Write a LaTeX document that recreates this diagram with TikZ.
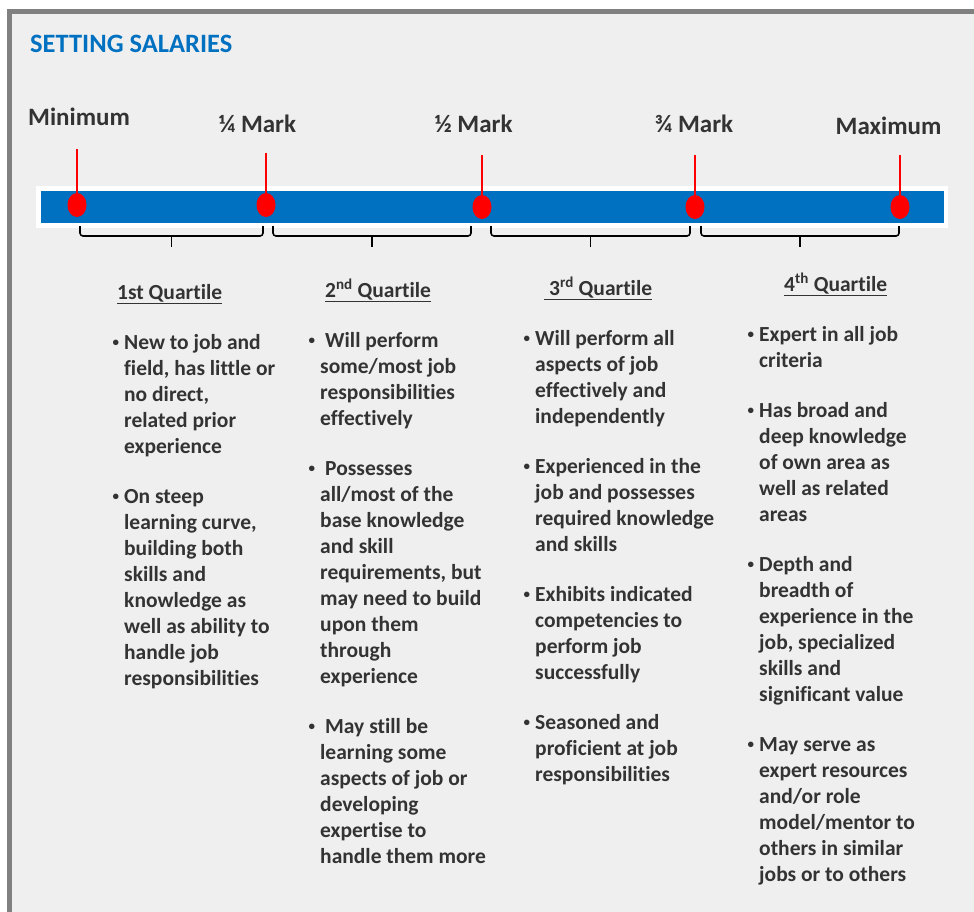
\documentclass[tikz,border=0pt]{standalone}
\usepackage{fontspec}
\setmainfont{Carlito}[Ligatures=NoCommon]
\usetikzlibrary{shapes.geometric}
\definecolor{barblue}{HTML}{0070C0}
\definecolor{panelgray}{HTML}{EFEFEF}
\definecolor{framegray}{HTML}{808080}
\definecolor{inkgray}{HTML}{333333}
% small bullet hanging left of the line, strut fixes the line top
\newcommand{\bul}{\rule{0pt}{18pt}\llap{\raisebox{3pt}{\fontsize{13}{13}\selectfont\textbullet}\hspace{5pt}}}
\begin{document}
\begin{tikzpicture}[x=1pt, y=-1pt,
  marklabel/.style={font=\fontsize{25}{30}\selectfont\bfseries, text=inkgray, inner sep=0pt, anchor=base},
  reddot/.style={ellipse, fill=red, minimum width=19pt, minimum height=24pt, inner sep=0pt},
  redline/.style={red, line width=1.8pt},
  qbrace/.style={black, line width=1.6pt, rounded corners=3pt},
  qhead/.style={font=\fontsize{21.5}{26}\selectfont\bfseries, text=inkgray, inner sep=0pt, anchor=base west},
  qtext/.style={font=\fontsize{21.5}{26}\selectfont\bfseries, text=inkgray, inner sep=0pt, align=left, anchor=north west},
]
\useasboundingbox (0,0) rectangle (974,912);
%Panel und Rahmen
\fill[white] (0,0) rectangle (974,912);
\fill[panelgray] (7,9) rectangle (974,912);
\draw[framegray, line width=5pt] (9.5,912) -- (9.5,11.5) -- (974,11.5);

\node[anchor=base west, inner sep=0pt, text=barblue, font=\fontsize{26.5}{30}\selectfont\bfseries] (title) at (30,53) {SETTING SALARIES};

%Balken
\fill[white] (36,186) rectangle (948,228);
\fill[barblue] (41,191) rectangle (944,223);

%Markierungen
\node[marklabel] (lmin) at (79,126) {Minimum};
\node[marklabel] (lq1) at (257.5,133) {¼ Mark};
\node[marklabel] (lmid) at (473.5,133) {½ Mark};
\node[marklabel] (lq3) at (694,133) {¾ Mark};
\node[marklabel] (lmax) at (888.5,135) {Maximum};
\foreach \n/\x/\y/\t in {min/77/205/149, q1/266/205/153, mid/482/207/155, q3/695/207/155, max/900/207/155} {
  \coordinate (t\n) at (\x,\t);
  \draw[redline] (t\n) -- (\x,\y);
  \node[reddot] (d\n) at (\x,\y) {};
}

%Klammern
\foreach \a/\b in {80/263, 273/471, 491/690, 701/899} {
  \coordinate (bl) at (\a,226);
  \coordinate (br) at (\b,226);
  \coordinate (bm) at ({(\a+\b)/2},236);
  \draw[qbrace] (bl) |- (bm) -| (br);
  \draw[qbrace] (bm) -- ++(0,11);
}

%Quartile
\node[qhead] (h1) at (117,299) {\underline{1st Quartile}};
\node[qhead] (h2) at (325,297) {\underline{2\textsuperscript{nd} Quartile}};
\node[qhead] (h3) at (544,295) {\underline{\hspace*{5pt}3\textsuperscript{rd} Quartile}};
\node[qhead] (h4) at (784,291) {\underline{4\textsuperscript{th} Quartile}};

\node[qtext] (c1) at (124,331) {\bul New to job and\\ field, has little or\\ no direct,\\ related prior\\ experience\\[24pt]
  \bul On steep\\ learning curve,\\ building both\\ skills and\\ knowledge as\\ well as ability to\\ handle job\\ responsibilities};
\node[qtext] (c2) at (320,329) {\bul\hspace*{5pt}Will perform\\ some/most job\\ responsibilities\\ effectively\\[24pt]
  \bul\hspace*{5pt}Possesses\\ all/most of the\\ base knowledge\\ and skill\\ requirements, but\\ may need to build\\ upon them\\ through\\ experience\\[24pt]
  \bul\hspace*{5pt}May still be\\ learning some\\ aspects of job or\\ developing\\ expertise to\\ handle them more};
\node[qtext] (c3) at (535,327) {\bul Will perform all\\ aspects of job\\ effectively and\\ independently\\[24pt]
  \bul Experienced in the\\ job and possesses\\ required knowledge\\ and skills\\[24pt]
  \bul Exhibits indicated\\ competencies to\\ perform job\\ successfully\\[24pt]
  \bul Seasoned and\\ proficient at job\\ responsibilities};
\node[qtext] (c4) at (759,323) {\bul Expert in all job\\ criteria\\[24pt]
  \bul Has broad and\\ deep knowledge\\ of own area as\\ well as related\\ areas\\[24pt]
  \bul Depth and\\ breadth of\\ experience in the\\ job, specialized\\ skills and\\ significant value\\[24pt]
  \bul May serve as\\ expert resources\\ and/or role\\ model/mentor to\\ others in similar\\ jobs or to others};
\end{tikzpicture}
\end{document}
